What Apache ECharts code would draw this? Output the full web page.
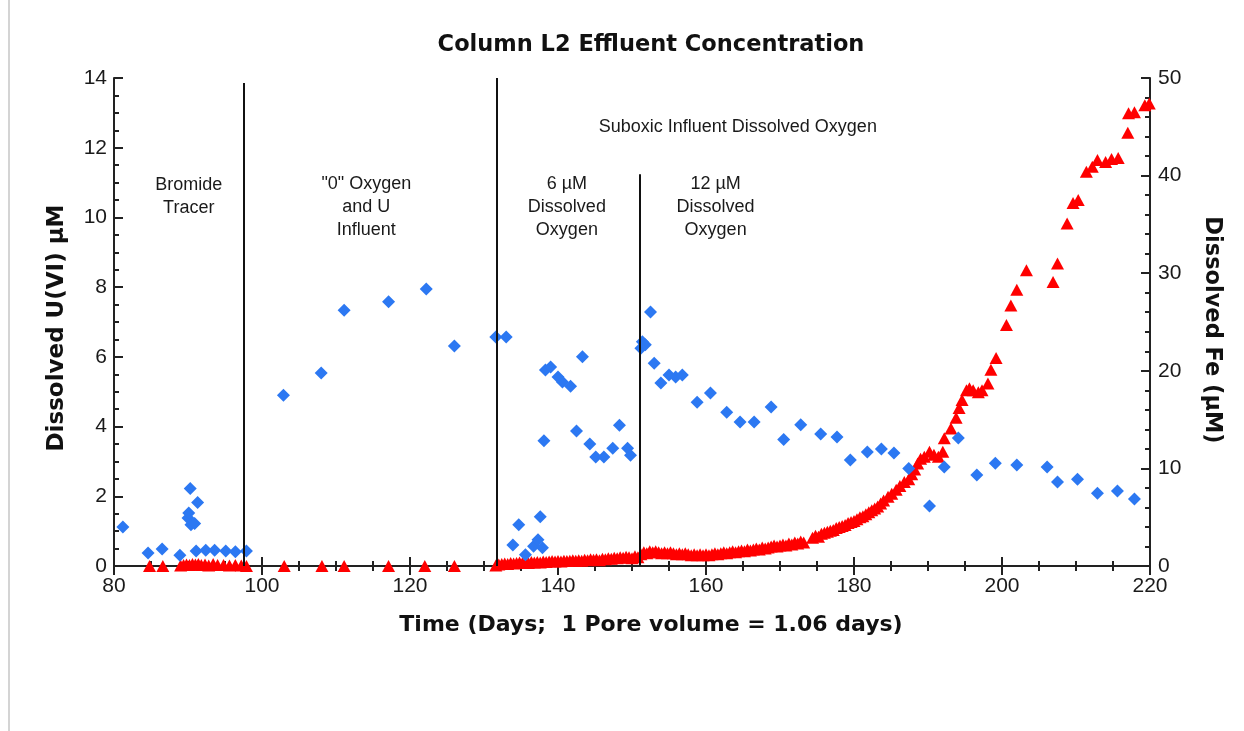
<!DOCTYPE html>
<html>
<head>
<meta charset="utf-8">
<title>Column L2 Effluent Concentration</title>
<script src="https://cdn.jsdelivr.net/npm/echarts@6/dist/echarts.min.js"></script>
<style>
  html, body { margin: 0; padding: 0; background: #ffffff; }
  #chart { width: 1244px; height: 731px; }
</style>
</head>
<body>
<div id="chart"></div>
<script>
// Dissolved U(VI), µM  — [day, concentration]
const uraniumData = [
  [81.2, 1.12], [84.6, 0.37], [86.5, 0.49], [88.9, 0.31],
  [90.0, 1.38], [90.1, 1.52], [90.3, 2.22], [90.4, 1.18], [90.9, 1.22], [91.3, 1.82],
  [91.1, 0.43], [92.4, 0.45], [93.6, 0.45], [95.1, 0.43], [96.4, 0.41], [97.9, 0.43],
  [102.9, 4.90], [108.0, 5.54], [111.1, 7.34], [117.1, 7.58], [122.2, 7.95], [126.0, 6.31],
  [131.6, 6.57], [133.0, 6.57],
  [133.9, 0.60], [134.7, 1.18], [135.6, 0.32], [136.7, 0.57], [137.3, 0.75], [137.6, 1.41], [137.9, 0.52],
  [138.1, 3.59], [138.3, 5.62], [139.0, 5.71], [140.0, 5.42], [140.6, 5.28], [141.7, 5.16],
  [142.5, 3.87], [143.3, 6.00], [144.3, 3.50], [145.1, 3.13], [146.2, 3.13], [147.4, 3.38],
  [148.3, 4.04], [149.4, 3.38], [149.8, 3.18],
  [151.2, 6.25], [151.4, 6.43], [151.8, 6.35], [152.5, 7.29], [153.0, 5.82], [153.9, 5.25],
  [155.0, 5.48], [155.9, 5.42], [156.8, 5.48], [158.8, 4.70], [160.6, 4.96], [162.8, 4.41],
  [164.6, 4.13], [166.5, 4.13], [168.8, 4.56], [170.5, 3.63], [172.8, 4.05], [175.5, 3.79],
  [177.7, 3.70], [179.5, 3.04], [181.8, 3.27], [183.7, 3.36], [185.4, 3.24], [187.4, 2.80],
  [190.2, 1.72], [192.2, 2.84], [194.1, 3.67], [196.6, 2.61], [199.1, 2.95], [202.0, 2.90],
  [206.1, 2.84], [207.5, 2.41], [210.2, 2.49], [212.9, 2.09], [215.6, 2.15], [217.9, 1.92]
];

// Dissolved Fe, µM — [day, concentration]
const ironData = [
  [84.8, 0.0], [86.6, 0.0], [89.0, 0.05], [89.4, 0.1], [89.8, 0.15], [90.2, 0.1], [90.6, 0.2],
  [91.0, 0.15], [91.4, 0.2], [91.8, 0.1], [92.3, 0.15], [92.8, 0.05], [93.4, 0.2], [94.0, 0.1],
  [94.8, 0.1], [95.6, 0.05], [96.4, 0.1], [97.2, 0.05], [97.9, 0.0],
  [103.0, 0.0], [108.1, 0.0], [111.1, 0.0], [117.1, 0.0], [122.0, 0.0], [126.0, 0.0],
  [131.6, 0.05], [132.0, 0.15], [132.4, 0.2], [132.8, 0.25], [133.2, 0.2], [133.6, 0.3], [134.0, 0.25],
  [134.4, 0.3], [134.8, 0.35], [135.2, 0.3], [135.6, 0.35], [136.0, 0.3], [136.4, 0.4],
  [136.8, 0.35], [137.2, 0.4], [137.6, 0.35], [138.0, 0.45], [138.4, 0.4], [138.8, 0.45],
  [139.2, 0.5], [139.6, 0.45], [140.0, 0.5], [140.4, 0.45], [140.8, 0.55], [141.2, 0.5],
  [141.6, 0.55], [142.0, 0.6], [142.4, 0.55], [142.8, 0.6], [143.2, 0.55], [143.6, 0.65],
  [144.0, 0.6], [144.4, 0.7], [144.8, 0.65], [145.2, 0.7], [145.6, 0.6], [146.0, 0.75],
  [146.4, 0.7], [146.8, 0.8], [147.2, 0.75], [147.6, 0.85], [148.0, 0.8], [148.4, 0.9],
  [148.8, 0.85], [149.2, 0.95], [149.6, 0.9], [150.0, 0.8], [150.4, 1.0], [150.8, 0.9],
  [151.2, 1.2], [151.6, 1.4], [152.0, 1.3], [152.4, 1.5], [152.8, 1.4], [153.2, 1.5],
  [153.6, 1.4], [154.0, 1.3], [154.4, 1.4], [154.8, 1.3], [155.2, 1.4], [155.6, 1.3],
  [156.0, 1.2], [156.4, 1.3], [156.8, 1.2], [157.2, 1.3], [157.6, 1.2], [158.0, 1.1],
  [158.4, 1.2], [158.8, 1.1], [159.2, 1.2], [159.6, 1.1], [160.0, 1.2], [160.4, 1.1],
  [160.8, 1.2], [161.2, 1.3], [161.6, 1.2], [162.0, 1.3], [162.4, 1.4], [162.8, 1.3],
  [163.2, 1.4], [163.6, 1.5], [164.0, 1.4], [164.4, 1.5], [164.8, 1.6], [165.2, 1.5],
  [165.6, 1.7], [166.0, 1.6], [166.4, 1.7], [166.8, 1.8], [167.2, 1.7], [167.6, 1.9],
  [168.0, 1.8], [168.4, 1.9], [168.8, 2.0], [169.2, 2.1], [169.6, 2.0], [170.0, 2.1],
  [170.4, 2.2], [170.8, 2.1], [171.2, 2.3], [171.6, 2.2], [172.0, 2.4], [172.4, 2.3],
  [172.8, 2.5], [173.2, 2.4],
  [174.4, 2.9], [174.8, 3.1], [175.2, 3.0], [175.6, 3.3], [176.0, 3.4], [176.4, 3.5],
  [176.8, 3.6], [177.2, 3.7], [177.6, 3.9], [178.0, 4.0], [178.4, 4.1], [178.8, 4.2],
  [179.2, 4.4], [179.6, 4.5], [180.0, 4.6], [180.4, 4.8], [180.8, 5.0], [181.2, 5.1],
  [181.6, 5.3], [182.0, 5.5], [182.4, 5.7], [182.8, 5.9], [183.2, 6.1], [183.6, 6.4],
  [184.0, 6.7], [184.6, 7.1], [185.1, 7.4], [185.7, 7.8], [186.2, 8.2], [186.8, 8.6],
  [187.4, 8.9], [187.8, 9.4], [188.2, 9.9], [188.6, 10.5], [189.0, 11.0], [189.5, 11.2],
  [190.2, 11.7], [190.8, 11.4], [191.4, 11.2], [192.0, 11.7], [192.2, 13.1], [193.1, 14.1],
  [193.8, 15.2], [194.2, 16.2], [194.6, 17.0], [195.2, 18.0], [195.6, 18.2], [196.1, 18.0],
  [196.8, 17.8], [197.3, 18.0], [198.1, 18.7], [198.5, 20.1], [199.2, 21.3], [200.6, 24.7],
  [201.2, 26.7], [202.0, 28.3], [203.3, 30.3], [206.9, 29.1], [207.5, 31.0], [208.8, 35.1],
  [209.6, 37.2], [210.3, 37.5], [211.4, 40.4], [212.2, 40.9], [212.9, 41.6], [214.0, 41.4],
  [214.8, 41.7], [215.7, 41.8], [217.0, 44.4], [217.1, 46.4], [217.9, 46.5], [219.3, 47.2],
  [219.9, 47.4]
];

// Phase boundaries: [day, top of line on the U(VI) axis]
const phaseLines = [
  [97.6, 13.86],
  [131.7, 14.0],
  [151.0, 11.24]
];

// Phase notes: [day, U(VI) axis height, text]
const phaseNotes = [
  [90.1, 10.6, 'Bromide\nTracer'],
  [114.1, 10.3, '"0" Oxygen\nand U\nInfluent'],
  [141.2, 10.3, '6 µM\nDissolved\nOxygen'],
  [161.3, 10.3, '12 µM\nDissolved\nOxygen'],
  [164.3, 12.6, 'Suboxic Influent Dissolved Oxygen']
];

const chart = echarts.init(document.getElementById('chart'), null, { renderer: 'canvas' });

const FONT = '"Liberation Sans", Arial, sans-serif';
const BOLD_FONT = '"DejaVu Sans", "Liberation Sans", Arial, sans-serif';
const AXIS_COLOR = '#222222';

const tickLabel = { fontFamily: FONT, fontSize: 21, color: '#1a1a1a' };
const tickStyle = { color: AXIS_COLOR, width: 2 };

function headingText(text, x, y, size, rotation) {
  return {
    type: 'text', silent: true, x: x, y: y, rotation: rotation || 0,
    style: {
      text: text, font: 'bold ' + size + 'px ' + BOLD_FONT, fill: '#111111',
      textAlign: 'center', textVerticalAlign: 'middle'
    }
  };
}

const option = {
  backgroundColor: '#ffffff',
  animation: false,
  grid: { left: 114, right: 94, top: 78, bottom: 165 },
  xAxis: [
    {
      type: 'value', min: 80, max: 220, interval: 20,
      axisLine: { lineStyle: tickStyle },
      axisTick: { inside: true, length: 9, lineStyle: tickStyle },
      minorTick: { show: true, splitNumber: 4, length: 5, lineStyle: tickStyle },
      axisLabel: Object.assign({ margin: 10 }, tickLabel),
      splitLine: { show: false }
    },
    {
      type: 'value', min: 80, max: 220, interval: 20, position: 'top',
      axisLine: { lineStyle: tickStyle },
      axisTick: { inside: true, length: 9, lineStyle: tickStyle },
      minorTick: { show: true, splitNumber: 4, length: 5, lineStyle: tickStyle },
      axisLabel: { show: false },
      splitLine: { show: false }
    }
  ],
  yAxis: [
    {
      type: 'value', min: 0, max: 14, interval: 2,
      axisLine: { show: true, lineStyle: tickStyle },
      axisTick: { show: true, inside: true, length: 9, lineStyle: tickStyle },
      minorTick: { show: true, splitNumber: 4, length: 5, lineStyle: tickStyle },
      axisLabel: Object.assign({ margin: 7 }, tickLabel),
      splitLine: { show: false }
    },
    {
      type: 'value', min: 0, max: 50, interval: 10, position: 'right',
      axisLine: { show: true, lineStyle: tickStyle },
      axisTick: { show: true, inside: true, length: 9, lineStyle: tickStyle },
      minorTick: { show: true, splitNumber: 5, length: 5, lineStyle: tickStyle },
      axisLabel: Object.assign({ margin: 8 }, tickLabel),
      splitLine: { show: false }
    }
  ],
  graphic: [
    {
      type: 'line', silent: true,
      shape: { x1: 9, y1: 0, x2: 9, y2: 731 },
      style: { stroke: '#d4d4d4', lineWidth: 2 }
    },
    headingText('Column L2 Effluent Concentration', 651, 45, 22.5),
    headingText('Time (Days;  1 Pore volume = 1.06 days)', 651, 625, 22),
    headingText('Dissolved U(VI) µM', 57, 328, 23, Math.PI / 2),
    headingText('Dissolved Fe (µM)', 1212, 330, 22.5, -Math.PI / 2)
  ],
  series: [
    {
      name: 'Dissolved Fe',
      type: 'scatter',
      xAxisIndex: 0, yAxisIndex: 1,
      data: ironData,
      symbol: 'triangle',
      symbolSize: [13, 12],
      clip: false,
      itemStyle: { color: '#ff0000', opacity: 1 },
      z: 2
    },
    {
      name: 'Dissolved U(VI)',
      type: 'scatter',
      xAxisIndex: 0, yAxisIndex: 0,
      data: uraniumData,
      symbol: 'diamond',
      symbolSize: [13, 13],
      clip: false,
      itemStyle: { color: '#2c78f2', opacity: 1 },
      z: 3,
      markLine: {
        silent: true,
        symbol: ['none', 'none'],
        label: { show: false },
        lineStyle: { color: '#111111', width: 2, type: 'solid' },
        data: phaseLines.map(p => [{ coord: [p[0], p[1]] }, { coord: [p[0], 0] }])
      }
    },
    {
      name: 'Phase notes',
      type: 'scatter',
      xAxisIndex: 0, yAxisIndex: 0,
      data: phaseNotes,
      symbolSize: 0,
      silent: true,
      itemStyle: { opacity: 1 },
      label: {
        show: true,
        position: 'inside',
        formatter: p => p.data[2],
        fontFamily: FONT,
        fontSize: 18,
        lineHeight: 23,
        color: '#1a1a1a',
        align: 'center',
        verticalAlign: 'middle'
      },
      z: 4
    }
  ]
};

chart.setOption(option);
</script>
</body>
</html>
